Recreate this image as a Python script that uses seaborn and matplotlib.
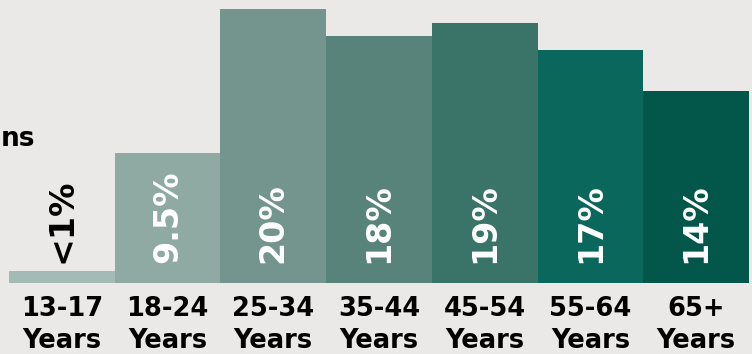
import matplotlib

matplotlib.use("Agg")
import matplotlib.pyplot as plt
import pandas as pd
import seaborn as sns

# ## Data

age_groups = ["13-17", "18-24", "25-34", "35-44", "45-54", "55-64", "65+"]
share = [0.9, 9.5, 20, 18, 19, 17, 14]
share_labels = ["<1%", "9.5%", "20%", "18%", "19%", "17%", "14%"]
bar_colours = [
    "#a4bbb5",
    "#8eaaa2",
    "#74958d",
    "#58837a",
    "#3a7469",
    "#0a675b",
    "#02564a",
]
label_colours = ["black"] + ["white"] * 6

df = pd.DataFrame(
    {"age": [f"{a}\nYears" for a in age_groups], "share": share}
)

# ## Plot

bg = "#ebe9e7"
plt.rcParams["font.family"] = ["DejaVu Sans"]

fig = plt.figure(figsize=(7.52, 3.54), dpi=100, facecolor=bg)
ax = fig.add_axes([9 / 752, 71 / 354, 740 / 752, 283 / 354])
ax.set_facecolor(bg)

sns.barplot(
    data=df,
    x="age",
    y="share",
    hue="age",
    palette=bar_colours,
    width=1,
    saturation=1,
    legend=False,
    ax=ax,
)

ax.set_xlim(-0.5, len(age_groups) - 0.5)
ax.set_ylim(0, 20.66)

for i, (lab, col) in enumerate(zip(share_labels, label_colours)):
    ax.text(
        i,
        1.45,
        lab,
        rotation=90,
        ha="center",
        va="bottom",
        color=col,
        fontsize=24,
        fontweight="bold",
    )

ax.set_xlabel("")
ax.set_ylabel("")
ax.set_yticks([])
ax.tick_params(axis="x", length=0, pad=9)
for lbl in ax.get_xticklabels():
    lbl.set_fontsize(18.5)
    lbl.set_fontweight("bold")
    lbl.set_linespacing(1.3)
    lbl.set_color("black")
for s in ax.spines.values():
    s.set_visible(False)

# heading fragment at the left edge
fig.text(
    1 / 752,
    1 - 146 / 354,
    "ns",
    ha="left",
    va="baseline",
    fontsize=19,
    fontweight="bold",
    color="black",
)

fig.savefig("out.png", dpi=100, facecolor=bg)
